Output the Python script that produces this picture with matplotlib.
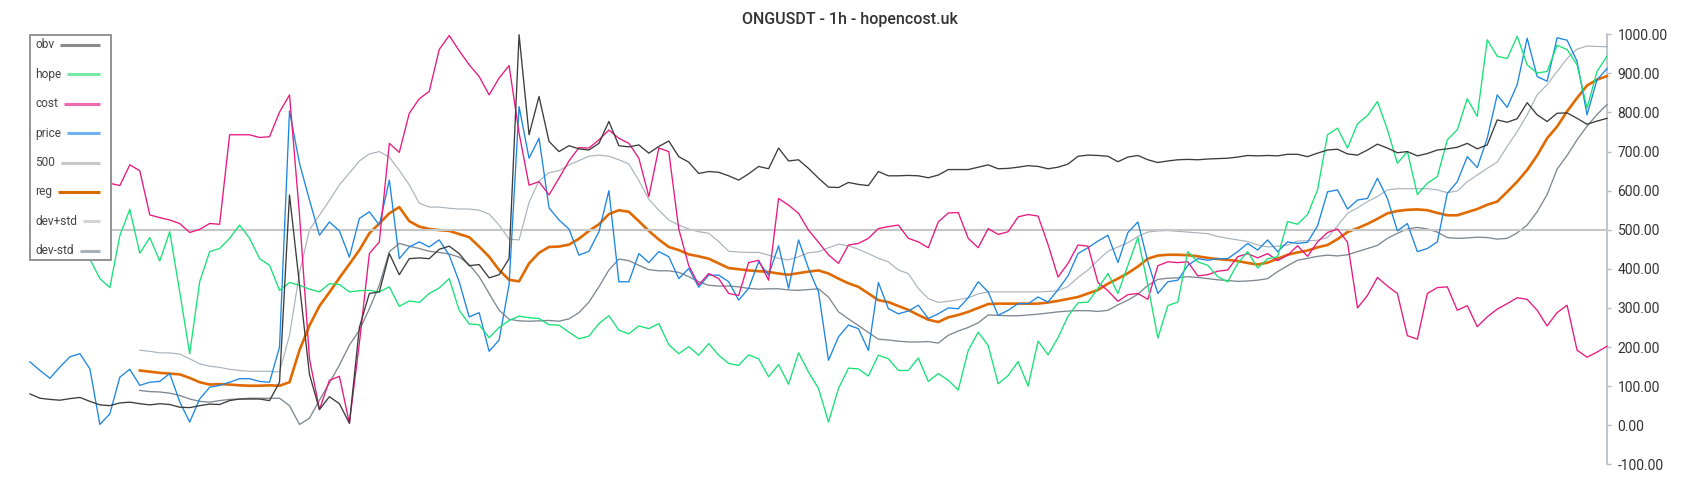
import numpy as np
import matplotlib
matplotlib.use("Agg")
import matplotlib.pyplot as plt
from matplotlib.lines import Line2D
from matplotlib.patches import Rectangle
from matplotlib.ticker import FormatStrFormatter

plt.rcParams['font.family'] = ['Roboto', 'DejaVu Sans']

title = "ONGUSDT - 1h - hopencost.uk"
labels = ["obv", "hope", "cost", "price", "500", "reg", "dev+std", "dev-std"]

obv = [80, 69, 66, 64, 68, 71, 61, 52, 50, 57, 59, 55, 52, 55, 53, 46, 45, 50, 54, 53,
       63, 67, 67, 67, 63, 110, 589, 360, 130, 40, 73, 55, 5,
       250, 337, 341, 439, 385, 426, 428, 426, 450, 458, 439, 408, 411, 377, 385, 426, 999, 743,
       841, 726, 700, 715, 707, 704, 721, 777, 715, 712, 717, 696, 713,
       727, 687, 673, 644, 649, 647, 638, 627, 643, 662, 656, 709, 676, 679, 657, 632, 609, 608,
       621, 616, 613, 649, 638, 638, 639, 638, 633, 640, 654, 654, 654,
       660, 666, 656, 657, 660, 664, 662, 656, 660, 668, 688, 691, 690, 688, 674, 686, 690, 679,
       672, 676, 679, 680, 679, 681, 682, 683, 686, 690, 689, 690, 689, 693,
       693, 687, 696, 704, 706, 694, 691, 704, 719, 709, 697, 700, 689, 695, 704, 707, 711, 721,
       707, 717, 781, 775, 784, 825, 794, 777, 798, 799, 785, 770, 778, 785]

hope = [440, 430, 422, 470, 510, 480, 425, 375, 352, 485, 552, 440, 480, 420, 495, 341, 183,
        367, 444, 452, 478, 512, 478, 426, 409, 345, 365, 358, 348, 341, 362, 360, 341,
        344, 345, 341, 354, 304, 318, 314, 337, 351, 375, 294, 259, 257, 224, 250, 268, 279, 275,
        273, 257, 256, 238, 221, 228, 260, 280, 243, 234, 254, 247, 260,
        206, 183, 201, 179, 209, 179, 158, 153, 180, 170, 124, 155, 105, 185, 136, 94, 8, 94,
        146, 144, 126, 179, 170, 140, 140, 172, 112, 132, 115, 90, 191,
        238, 204, 106, 127, 163, 100, 215, 180, 224, 279, 313, 315, 350, 388, 337, 409, 480, 358,
        223, 306, 315, 444, 418, 409, 380, 367, 414, 444, 402, 426, 431, 521,
        514, 539, 602, 743, 760, 709, 771, 792, 828, 756, 670, 700, 590, 619, 636, 730, 756, 835,
        790, 986, 944, 938, 995, 922, 901, 905, 972, 961, 922, 811, 905, 944]

cost = [755, 690, 670, 650, 640, 630, 625, 620, 619, 613, 666, 651, 538, 531, 525, 516, 493,
        501, 516, 514, 743, 743, 743, 736, 738, 801, 845, 538, 170, 40, 115, 125, 5,
        210, 439, 469, 721, 698, 798, 835, 854, 961, 997, 958, 922, 892, 845, 888, 920, 747, 614,
        623, 589, 632, 676, 710, 709, 730, 755, 734, 721, 683, 585, 709,
        700, 502, 408, 359, 388, 375, 337, 332, 416, 422, 371, 580, 563, 542, 499, 468, 436, 414,
        461, 465, 478, 503, 508, 512, 478, 469, 454, 520, 543, 544, 478,
        454, 503, 488, 495, 533, 539, 535, 462, 379, 414, 461, 458, 365, 344, 317, 334, 337, 322,
        408, 418, 416, 418, 382, 385, 394, 397, 431, 439, 428, 439, 421, 435,
        459, 432, 469, 493, 502, 468, 300, 332, 378, 356, 337, 229, 220, 337, 352, 354, 294, 306,
        252, 277, 297, 311, 326, 322, 294, 254, 288, 307, 192, 174, 187, 202]

price = [162, 140, 120, 149, 175, 183, 144, 2, 29, 123, 143, 102, 110, 112, 132, 60, 8, 67,
         97, 102, 110, 119, 119, 112, 110, 200, 804, 670, 576, 486, 520, 497, 430,
         529, 546, 512, 627, 426, 456, 469, 456, 474, 435, 367, 277, 288, 189, 218, 360, 815, 683,
         734, 556, 525, 502, 435, 445, 495, 600, 367, 367, 439, 416, 444,
         431, 375, 401, 353, 384, 384, 367, 320, 350, 418, 384, 459, 350, 474, 401, 341, 166, 226,
         256, 247, 191, 365, 298, 285, 292, 307, 273, 285, 300, 298, 326,
         367, 341, 281, 294, 311, 311, 328, 315, 347, 382, 439, 454, 471, 486, 416, 493, 520, 418,
         337, 367, 371, 409, 426, 422, 426, 426, 444, 465, 448, 474, 444, 469,
         465, 468, 510, 597, 602, 553, 576, 580, 632, 580, 497, 516, 444, 452, 469, 593, 623, 687,
         659, 734, 845, 813, 871, 990, 892, 880, 991, 985, 931, 794, 884, 912]

level = 500

band_start = 11
reg = [140, 137, 134, 132, 130, 121, 110, 104, 105, 104, 102, 101, 101, 102, 101, 110, 192,
       255, 305, 340, 377, 412,
       448, 491, 516, 542, 558, 522, 508, 502, 499, 497, 489, 481, 457, 431, 397, 372, 368, 414,
       441, 456, 457, 462, 477, 497, 514, 540, 550, 546, 522, 497, 475,
       456, 448, 437, 432, 426, 414, 402, 399, 396, 394, 392, 388, 385, 389, 393, 396, 388, 375,
       363, 354, 337, 320, 315, 305, 295, 282, 270, 264, 276, 282, 290,
       300, 310, 311, 311, 311, 311, 311, 314, 318, 323, 328, 337, 346, 362, 375, 389, 406, 426,
       434, 436, 436, 435, 432, 428, 425, 423, 420, 415, 411, 416, 426, 436,
       442, 447, 455, 461, 476, 494, 504, 515, 528, 542, 548, 551, 552, 550, 543, 537, 537, 545,
       553, 564, 572, 597, 623, 653, 690, 734, 764, 803, 837, 869, 884, 893]

dev_plus = [192, 189, 185, 185, 182, 170, 157, 151, 148, 143, 140, 138, 138, 138, 136, 230,
            389, 500, 537, 575, 615, 645,
            676, 694, 700, 686, 652, 615, 568, 558, 558, 555, 553, 553, 550, 540, 512, 476, 474,
            570, 625, 646, 651, 666, 677, 688, 691, 688, 679, 668, 626, 578, 550,
            525, 512, 502, 495, 491, 470, 445, 443, 442, 442, 435, 427, 423, 431, 441, 444, 454,
            463, 459, 450, 439, 427, 418, 397, 388, 350, 324, 314, 317, 321, 326,
            336, 341, 341, 341, 341, 341, 341, 342, 344, 355, 378, 397, 422, 445, 456, 467, 483,
            494, 497, 498, 496, 494, 492, 490, 483, 478, 474, 470, 461, 456, 458, 461,
            471, 472, 473, 480, 510, 542, 556, 572, 585, 602, 605, 605, 605, 605, 602, 595, 599,
            623, 640, 657, 673, 713, 751, 794, 845, 871, 905, 938, 962, 970, 969, 968]

dev_minus = [89, 86, 85, 82, 76, 67, 61, 59, 63, 66, 67, 69, 69, 69, 69, 50, 2, 18, 64, 108,
             154, 205,
             243, 298, 358, 444, 465, 458, 452, 445, 442, 438, 430, 411, 380, 337, 294, 271, 267,
             266, 267, 268, 266, 272, 288, 315, 354, 397, 425, 421, 409, 398, 395,
             395, 391, 380, 367, 358, 356, 356, 354, 350, 348, 349, 349, 346, 345, 347, 349, 328,
             290, 272, 255, 237, 220, 218, 215, 213, 213, 214, 210, 230, 241, 250,
             262, 282, 281, 280, 280, 282, 284, 287, 290, 292, 293, 293, 291, 294, 308, 320, 335,
             358, 373, 376, 377, 380, 378, 375, 372, 370, 368, 369, 371, 375, 393, 408,
             422, 427, 432, 435, 433, 436, 444, 452, 460, 478, 491, 502, 506, 502, 494, 480, 478,
             479, 481, 480, 476, 478, 492, 512, 546, 590, 655, 690, 730, 765, 795, 820]

y_ticks = [-100, 0, 100, 200, 300, 400, 500, 600, 700, 800, 900, 1000]

W, H = 1700, 500
fig = plt.figure(figsize=(W / 100, H / 100), dpi=100)
fig.patch.set_facecolor('white')

ax_left, ax_right, ax_top, ax_bottom = 30, 1607, 34.3, 464.3
ax = fig.add_axes([ax_left / W, 1 - ax_bottom / H, (ax_right - ax_left) / W, (ax_bottom - ax_top) / H])

n = len(price)
x_all = np.arange(n)
x_band = np.arange(band_start, band_start + len(reg))

line_colors = ['#3c3c3c', '#16e276', '#e8187f', '#1c86e3', '#c6c6c6', '#e06a00', '#a9b3bc', '#7e8891']
legend_colors = ['#8c8c8c', '#78e9a4', '#ef6aad', '#6fb2ef', '#c8c8c8', '#d96a00', '#d2d6da', '#a9b1b8']

series = [
    (x_all, obv, 0.95),
    (x_all, hope, 0.95),
    (x_all, cost, 0.95),
    (x_all, price, 0.95),
    (x_all, [level] * n, 1.5),
    (x_band, reg, 1.9),
    (x_band, dev_plus, 0.85),
    (x_band, dev_minus, 0.95),
]
for k, (xs, ys, lw) in enumerate(series):
    ax.plot(xs, ys, color=line_colors[k], lw=lw, zorder=20 - k, clip_on=False,
            solid_joinstyle='round')

ax.set_xlim(0, n - 1)
ax.set_ylim(-100, 1000)
ax.set_xticks([])
ax.set_yticks(y_ticks)
ax.yaxis.set_major_formatter(FormatStrFormatter('%.2f'))
ax.yaxis.tick_right()
ax.tick_params(axis='y', right=True, left=False, labelright=True, labelleft=False,
               length=3, width=1.0, color='#b3bec6', labelsize=10, labelcolor='#333333', pad=4.6)
for s in ['left', 'top', 'bottom']:
    ax.spines[s].set_visible(False)
ax.spines['right'].set_color('#b3bec6')
ax.spines['right'].set_linewidth(1.2)
ax.set_facecolor('none')

fig.text(850 / W, 1 - 19.5 / H, title, ha='center', va='center', fontsize=11.5,
         color='#333333', fontweight=500)

# legend (labels left, lines right)
def fx(px):
    return px / W

def fy(py):
    return 1 - py / H

box = Rectangle((fx(30), fy(259.7)), fx(111) - fx(30), (259.7 - 34.7) / H,
                transform=fig.transFigure, facecolor='white', edgecolor='#8a8a8a',
                lw=1.3, zorder=50)
fig.add_artist(box)
texts = []
for k, lab in enumerate(labels):
    yk = 45 + 29.4 * k
    t = fig.text(fx(35), fy(yk), lab, ha='left', va='center', fontsize=8.6,
                 color='#444444', zorder=51)
    texts.append((t, yk))
fig.canvas.draw()
renderer = fig.canvas.get_renderer()
for k, (t, yk) in enumerate(texts):
    bb = t.get_window_extent(renderer)
    x0 = bb.x1 + 6
    fig.add_artist(Line2D([fx(x0), fx(100)], [fy(yk), fy(yk)], transform=fig.transFigure,
                          color=legend_colors[k], lw=2.2, zorder=52, solid_capstyle='butt'))

fig.savefig('out.png', dpi=100, facecolor='white')
